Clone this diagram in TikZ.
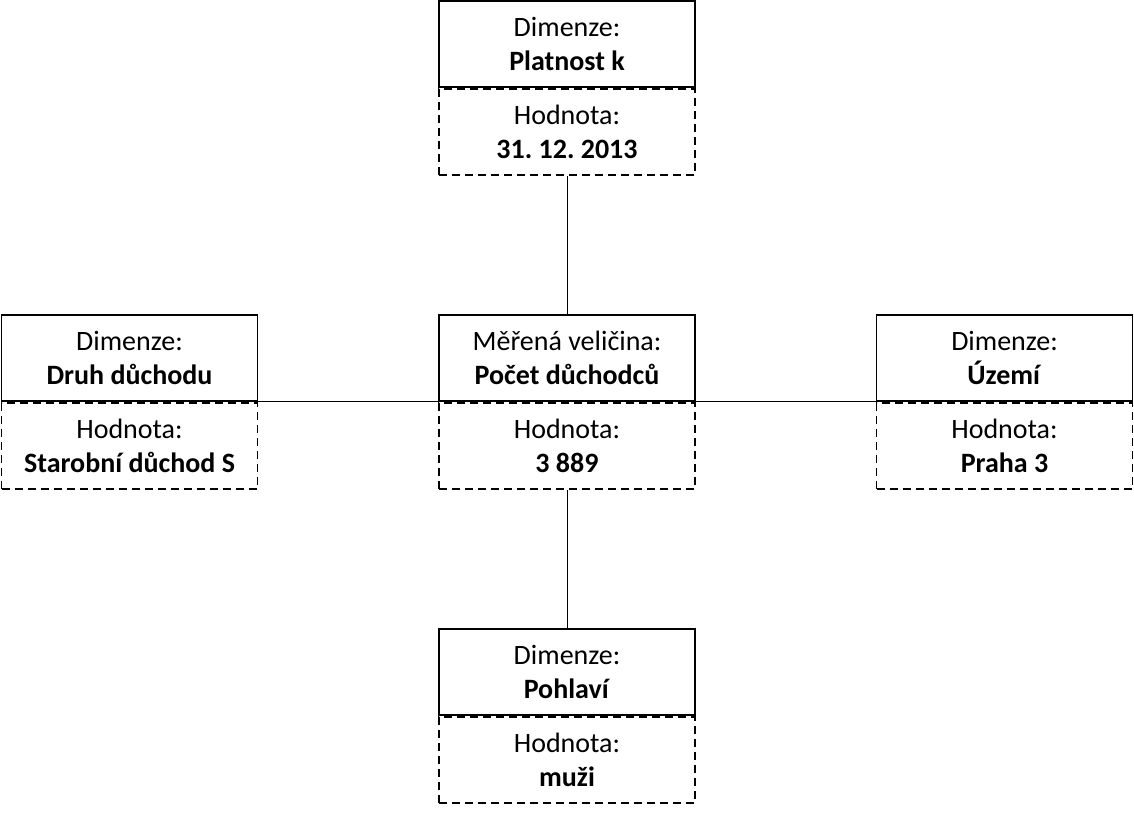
\documentclass[tikz,border=0pt]{standalone}
\usepackage{fontspec}
\setmainfont{Carlito}
\usetikzlibrary{positioning}
\frenchspacing
\tikzstyle{dimbox}=[rectangle,draw,line width=1.8pt,minimum width=256pt,minimum height=86pt,inner sep=0pt,align=center,font=\fontsize{28}{34}\selectfont]
\tikzstyle{valbox}=[dimbox,dash pattern=on 8pt off 5pt]
\tikzstyle{link}=[line width=0.9pt]

\begin{document}
\begin{tikzpicture}[x=1pt,y=1pt]

    \useasboundingbox (0,0) rectangle (1134,-812);

    \foreach \pos/\name/\head/\what/\val in {{(567,-44)/platnost/Dimenze:/Platnost k/31. 12. 2013},
        {(129.5,-358)/druh/Dimenze:/Druh důchodu/Starobní důchod S},
        {(567,-358)/pocet/Měřená veličina:/Počet důchodců/3 889},
        {(1004.5,-358)/uzemi/Dimenze:/Území/Praha 3},
        {(567,-672)/pohlavi/Dimenze:/Pohlaví/muži}}
    {
        \node[dimbox] (\name) at \pos {\head\\\textbf{\what}};
        \node[valbox, below=0pt of \name] (\name-v) {Hodnota:\\\textbf{\val}};
    }

       \draw[link] (platnost-v) to (pocet);
       \draw[link] (druh.south east) to (pocet.south west);
       \draw[link] (pocet.south east) to (uzemi.south west);
       \draw[link] (pocet-v) to (pohlavi);

\end{tikzpicture}
\end{document}
